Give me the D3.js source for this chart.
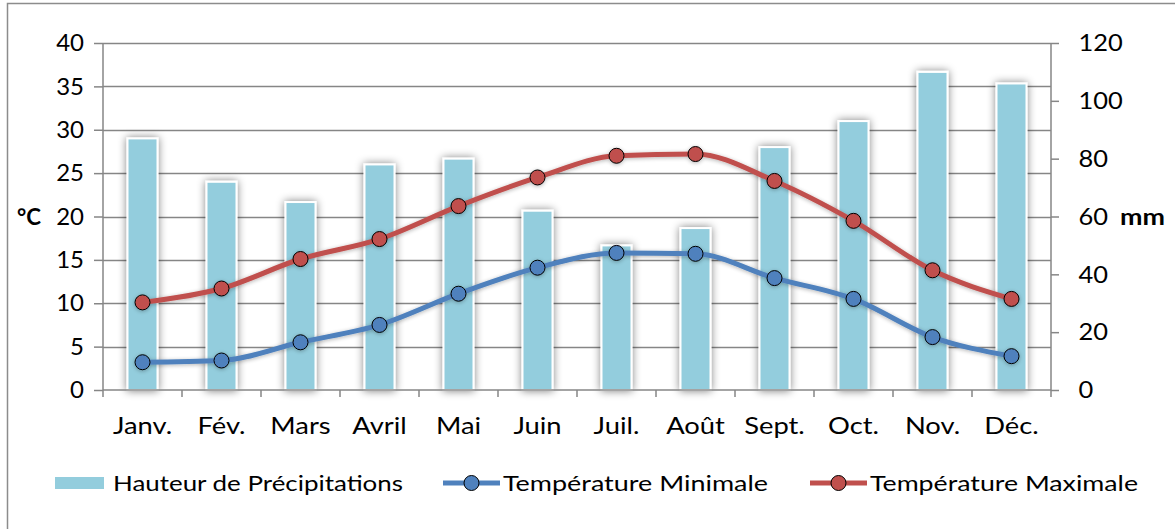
<!DOCTYPE html>
<html>
<head>
<meta charset="utf-8">
<script src="https://cdn.jsdelivr.net/npm/d3@7"></script>
<style>
  html, body { margin: 0; padding: 0; background: #fff; }
  svg { display: block; font-family: Lato, "Open Sans", sans-serif; }
</style>
</head>
<body>
<svg id="chart" width="1175" height="529"></svg>
<script>
// Monthly climate data
const months = ["Janv.", "Fév.", "Mars", "Avril", "Mai", "Juin", "Juil.", "Août", "Sept.", "Oct.", "Nov.", "Déc."];
const precipitation = [87, 72, 65, 78, 80, 62, 50, 56, 84, 93, 110, 106];   // mm
const tempMin = [3.2, 3.4, 5.5, 7.5, 11.1, 14.1, 15.8, 15.7, 12.9, 10.5, 6.1, 3.9]; // °C
const tempMax = [10.1, 11.7, 15.1, 17.4, 21.2, 24.5, 27.0, 27.2, 24.1, 19.5, 13.8, 10.5]; // °C
const tempTicks = [0, 5, 10, 15, 20, 25, 30, 35, 40];
const rainTicks = [0, 20, 40, 60, 80, 100, 120];
const legendLabels = ["Hauteur de Précipitations", "Température Minimale", "Température Maximale"];

const colors = { bar: "#93CDDD", min: "#4F81BD", max: "#C0504D", grid: "#868686" };

const svg = d3.select("#chart");
const plot = { left: 103, right: 1051, top: 43, bottom: 390 };

// Outer frame
svg.append("rect").attr("x", 7.5).attr("y", 3.5).attr("width", 1175).attr("height", 540)
  .attr("fill", "#fff").attr("stroke", "#8c8c8c").attr("stroke-width", 1.5);

const defs = svg.append("defs");
const glow = defs.append("filter").attr("id", "glow")
  .attr("x", "-80%").attr("y", "-20%").attr("width", "260%").attr("height", "140%");
glow.append("feGaussianBlur").attr("in", "SourceAlpha").attr("stdDeviation", 4).attr("result", "b");
glow.append("feComponentTransfer").attr("in", "b").attr("result", "s")
  .append("feFuncA").attr("type", "linear").attr("slope", 0.5);
const gm = glow.append("feMerge");
gm.append("feMergeNode").attr("in", "s");
gm.append("feMergeNode").attr("in", "SourceGraphic");

const lineShadow = defs.append("filter").attr("id", "lshadow")
  .attr("x", "-10%").attr("y", "-30%").attr("width", "120%").attr("height", "160%");
lineShadow.append("feGaussianBlur").attr("in", "SourceAlpha").attr("stdDeviation", 2).attr("result", "b");
lineShadow.append("feOffset").attr("in", "b").attr("dx", 0).attr("dy", 1).attr("result", "o");
lineShadow.append("feComponentTransfer").attr("in", "o").attr("result", "s")
  .append("feFuncA").attr("type", "linear").attr("slope", 0.3);
const lm = lineShadow.append("feMerge");
lm.append("feMergeNode").attr("in", "s");
lm.append("feMergeNode").attr("in", "SourceGraphic");

// Scales
const x = d3.scaleBand().domain(months).range([plot.left, plot.right]);
const yT = d3.scaleLinear().domain([0, 40]).range([plot.bottom, plot.top]);
const yR = d3.scaleLinear().domain([0, 120]).range([plot.bottom, plot.top]);

// Horizontal gridlines
svg.append("g").selectAll("line").data(tempTicks.slice(1)).join("line")
  .attr("x1", plot.left).attr("x2", plot.right)
  .attr("y1", d => Math.round(yT(d)) + 0.5).attr("y2", d => Math.round(yT(d)) + 0.5)
  .attr("stroke", colors.grid).attr("stroke-width", 1.5);

// Precipitation bars
const barW = 30;
svg.append("g").selectAll("rect").data(precipitation).join("rect")
  .attr("x", (d, i) => x(months[i]) + x.bandwidth() / 2 - barW / 2)
  .attr("y", d => yR(d))
  .attr("width", barW)
  .attr("height", d => plot.bottom - yR(d))
  .attr("fill", colors.bar)
  .attr("stroke", "#fff").attr("stroke-width", 2)
  .attr("filter", "url(#glow)");

// Axes
const tickFont = 24;
const axL = svg.append("g").attr("transform", `translate(${plot.left},0)`)
  .call(d3.axisLeft(yT).tickValues(tempTicks).tickSize(9).tickPadding(10).tickFormat(d3.format("d")));
const axR = svg.append("g").attr("transform", `translate(${plot.right},0)`)
  .call(d3.axisRight(yR).tickValues(rainTicks).tickSize(8).tickPadding(18).tickFormat(d3.format("d")));
const axB = svg.append("g").attr("transform", `translate(0,${plot.bottom})`)
  .call(d3.axisBottom(x).tickSize(0).tickPadding(27));
// month separators on the category axis
svg.append("g").selectAll("line").data(d3.range(months.length + 1)).join("line")
  .attr("x1", i => plot.left + i * x.step()).attr("x2", i => plot.left + i * x.step())
  .attr("y1", plot.bottom).attr("y2", plot.bottom + 7)
  .attr("stroke", colors.grid).attr("stroke-width", 1.5);

[axL, axR, axB].forEach(g => {
  g.select(".domain").attr("stroke", colors.grid).attr("stroke-width", 1.5);
  g.selectAll(".tick line").attr("stroke", colors.grid).attr("stroke-width", 1.5);
  g.selectAll("text").attr("font-size", tickFont).attr("fill", "#000")
    .attr("font-family", "Lato, 'Open Sans', sans-serif");
});
axB.selectAll(".tick text").attr("transform", "scale(1.14,1)");
axR.selectAll(".tick text").attr("transform", "scale(1.06,1)");
axL.select(".domain").attr("d", `M0,${plot.top}V${plot.bottom}`);
axR.select(".domain").attr("d", `M0,${plot.top}V${plot.bottom}`);
axB.select(".domain").attr("d", `M${plot.left},0H${plot.right}`);

// Axis unit labels
svg.append("text").attr("x", 17).attr("y", 225).attr("font-size", 22).attr("font-weight", "bold")
  .attr("textLength", 24).attr("lengthAdjust", "spacingAndGlyphs").text("°C");
svg.append("text").attr("x", 1120).attr("y", 225).attr("font-size", 22).attr("font-weight", "bold")
  .attr("textLength", 45).attr("lengthAdjust", "spacingAndGlyphs").text("mm");

// Temperature lines
const line = d3.line()
  .x((d, i) => x(months[i]) + x.bandwidth() / 2)
  .y(d => yT(d))
  .curve(d3.curveMonotoneX);

[[tempMin, colors.min], [tempMax, colors.max]].forEach(([data, c]) => {
  const g = svg.append("g").attr("filter", "url(#lshadow)");
  g.append("path").datum(data).attr("d", line)
    .attr("fill", "none").attr("stroke", c).attr("stroke-width", 5).attr("stroke-linejoin", "round");
  g.selectAll("circle").data(data).join("circle")
    .attr("cx", (d, i) => x(months[i]) + x.bandwidth() / 2)
    .attr("cy", d => yT(d))
    .attr("r", 7.5)
    .attr("fill", c).attr("stroke", "#000").attr("stroke-width", 1);
});

// Legend
const legY = 483;
const leg = svg.append("g").attr("font-size", 22);
leg.append("rect").attr("x", 55).attr("y", legY - 6).attr("width", 49).attr("height", 12).attr("fill", colors.bar);
leg.append("text").attr("x", 113).attr("y", legY + 8)
  .attr("textLength", 290).attr("lengthAdjust", "spacingAndGlyphs").text(legendLabels[0]);

[[443, colors.min, legendLabels[1], 265], [810, colors.max, legendLabels[2], 268]].forEach(([lx, c, label, w]) => {
  leg.append("line").attr("x1", lx).attr("x2", lx + 57).attr("y1", legY).attr("y2", legY)
    .attr("stroke", c).attr("stroke-width", 5);
  leg.append("circle").attr("cx", lx + 28.5).attr("cy", legY).attr("r", 7.5)
    .attr("fill", c).attr("stroke", "#000").attr("stroke-width", 1);
  leg.append("text").attr("x", lx + 60).attr("y", legY + 8)
    .attr("textLength", w).attr("lengthAdjust", "spacingAndGlyphs").text(label);
});
</script>
</body>
</html>
